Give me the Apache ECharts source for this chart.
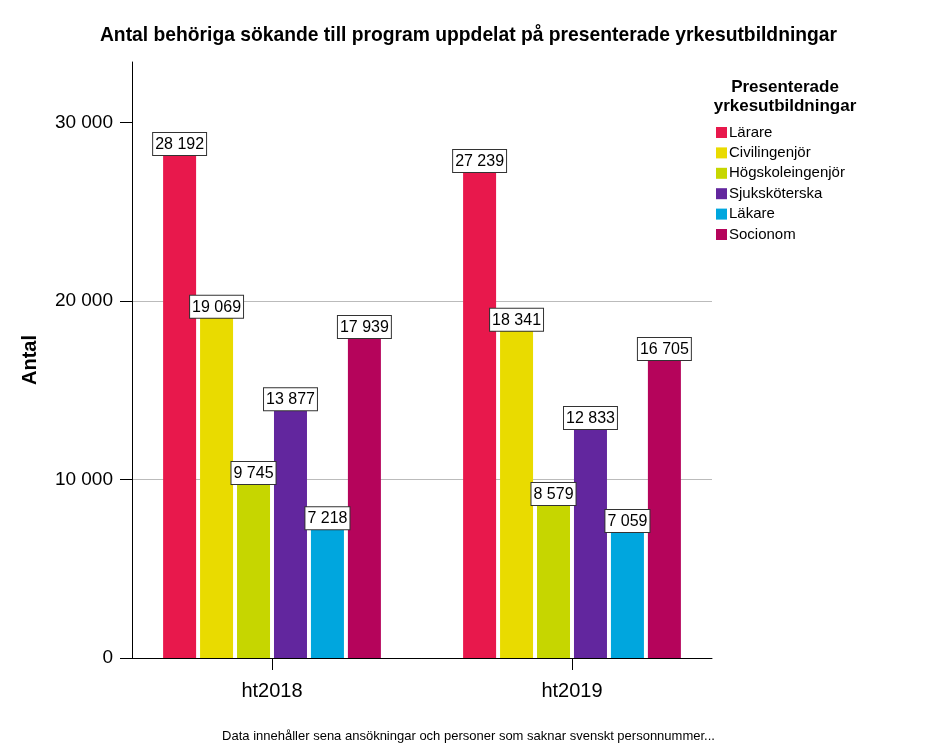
<!DOCTYPE html>
<html>
<head>
<meta charset="utf-8">
<script src="https://cdn.jsdelivr.net/npm/echarts@6/dist/echarts.min.js"></script>
<style>
html,body{margin:0;padding:0;background:#fff;}
#chart{width:937px;height:750px;}
</style>
</head>
<body>
<div id="chart"></div>
<script>
const categories = ['ht2018', 'ht2019'];
const seriesNames = ['Lärare', 'Civilingenjör', 'Högskoleingenjör', 'Sjuksköterska', 'Läkare', 'Socionom'];
const larare = [28192, 27239];
const civilingenjor = [19069, 18341];
const hogskoleingenjor = [9745, 8579];
const sjukskoterska = [13877, 12833];
const lakare = [7218, 7059];
const socionom = [17939, 16705];
const yTicks = [0, 10000, 20000, 30000];
const seriesValues = [larare, civilingenjor, hogskoleingenjor, sjukskoterska, lakare, socionom];
const colors = ['#E8184C', '#E9DB00', '#C6D600', '#62269E', '#00A6DE', '#B5045B'];

const FONT = '"Liberation Sans", Arial, sans-serif';
const fmt = v => String(v).replace(/\B(?=(\d{3})+(?!\d))/g, ' ');

const chart = echarts.init(document.getElementById('chart'), null, {renderer: 'canvas'});
const catIdx = categories.map((c, i) => i);

const option = {
  backgroundColor: '#fff',
  animation: false,
  color: colors,
  title: [
    {
      text: 'Antal behöriga sökande till program uppdelat på presenterade yrkesutbildningar',
      left: 'center', top: 21,
      textStyle: {fontFamily: FONT, fontSize: 19.3, fontWeight: 'bold', color: '#000'}
    },
    {
      text: 'Presenterade\nyrkesutbildningar',
      left: 780, top: 73, textAlign: 'center',
      textStyle: {fontFamily: FONT, fontSize: 17, fontWeight: 'bold', color: '#000', lineHeight: 19}
    },
    {
      text: 'Data innehåller sena ansökningar och personer som saknar svenskt personnummer...',
      left: 'center', top: 725,
      textStyle: {fontFamily: FONT, fontSize: 13, fontWeight: 'normal', color: '#000'}
    }
  ],
  legend: {
    orient: 'vertical',
    left: 711, top: 120,
    itemWidth: 11, itemHeight: 11, itemGap: 5.4,
    icon: 'rect',
    data: seriesNames,
    textStyle: {fontFamily: FONT, fontSize: 15, color: '#000', padding: [0, 0, 0, -3]}
  },
  grid: {left: 132, right: 225, top: 62, bottom: 92, containLabel: false},
  xAxis: {
    type: 'value',
    min: -0.4667, max: 1.4667,
    splitLine: {show: false},
    axisLine: {show: true, onZero: false, lineStyle: {color: '#000', width: 1}},
    axisTick: {show: true, customValues: catIdx, length: 12, inside: false, lineStyle: {color: '#000'}},
    axisLabel: {
      customValues: catIdx,
      formatter: v => categories[Math.round(v)] || '',
      fontFamily: FONT, fontSize: 20, color: '#000', margin: 23
    }
  },
  yAxis: {
    type: 'value',
    min: 0, max: 33400, interval: 10000,
    name: 'Antal',
    nameLocation: 'middle',
    nameGap: 92,
    nameTextStyle: {fontFamily: FONT, fontSize: 20, fontWeight: 'bold', color: '#000'},
    axisLine: {show: true, onZero: false, lineStyle: {color: '#000', width: 1}},
    axisTick: {show: true, length: 12, customValues: yTicks, lineStyle: {color: '#000'}},
    axisLabel: {
      customValues: yTicks,
      formatter: v => fmt(v),
      fontFamily: FONT, fontSize: 19, color: '#000', margin: 19
    },
    splitLine: {show: true, showMinLine: false, showMaxLine: false, lineStyle: {color: '#bbbbbb', width: 1}}
  },
  series: seriesNames.map((name, s) => ({
    name: name,
    type: 'bar',
    barWidth: 33,
    barGap: '12%',
    data: seriesValues[s].map((v, i) => [catIdx[i], v]),
    itemStyle: {color: colors[s]},
    label: {
      show: true,
      position: 'top',
      distance: 0,
      formatter: p => fmt(p.value[1]),
      fontFamily: FONT, fontSize: 16, color: '#000',
      backgroundColor: '#fff',
      borderColor: '#333', borderWidth: 1,
      padding: [3, 2, 2, 2],
      lineHeight: 17
    }
  }))
};
chart.setOption(option);
</script>
</body>
</html>
